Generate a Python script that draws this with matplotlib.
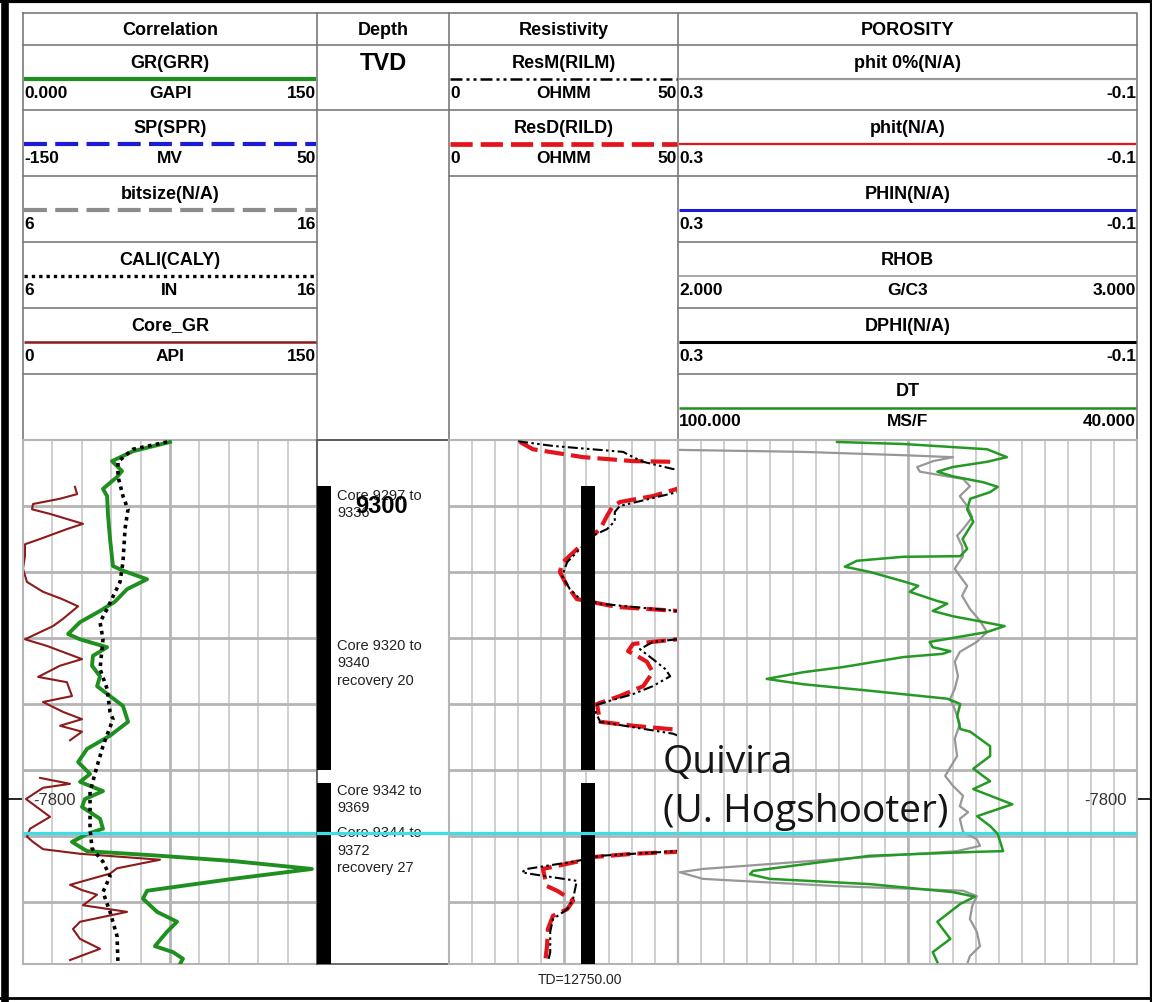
import numpy as np
import matplotlib.pyplot as plt
from matplotlib.patches import Rectangle

plt.rcParams['font.family'] = ['Liberation Sans', 'DejaVu Sans']
NARROW = ['Liberation Sans Narrow', 'Liberation Sans', 'DejaVu Sans']

FIG_W, FIG_H = 1152, 1003
TOP, BASE = 9290.0, 9369.4

# ---------------- log data (depth = TVD ft) ----------------
gr_depth = [9290.3, 9291.7, 9293.2, 9294.7, 9295.6, 9297.4, 9298.5, 9301.5, 9305.0, 9309.1,
            9309.8, 9311.1, 9312.6, 9314.5, 9315.9, 9317.6, 9319.4, 9320.2, 9321.4, 9322.7,
            9324.2, 9325.8, 9327.3, 9328.8, 9330.3, 9332.7, 9334.8, 9336.8, 9338.8, 9340.6,
            9341.8, 9343.2, 9344.4, 9345.6, 9347.4, 9348.9, 9349.7, 9350.9, 9352.3, 9353.0,
            9353.8, 9355.0, 9356.5, 9358.3, 9359.5, 9361.5, 9363.0, 9364.5, 9366.7, 9367.6,
            9368.6, 9369.4]
gr_api = [75.0, 56.1, 45.4, 50.5, 48.0, 40.8, 42.9, 43.4, 44.4, 45.9,
          51.0, 63.3, 53.1, 46.9, 39.3, 29.1, 23.0, 29.1, 42.9, 35.7,
          35.2, 39.3, 37.8, 44.4, 51.0, 53.6, 44.4, 32.7, 28.1, 34.2,
          29.1, 40.8, 31.6, 30.1, 39.3, 40.8, 32.7, 25.0, 32.7, 69.9,
          107.1, 147.4, 107.1, 63.3, 61.2, 68.4, 78.6, 73.5, 67.3, 76.5,
          81.6, 80.1]

cali_depth = [9290.3, 9291.4, 9293.3, 9295.5, 9298.5, 9300.5, 9303.5, 9308.5, 9311.5, 9315.6,
              9317.6, 9320.2, 9324.7, 9327.7, 9331.2, 9332.3, 9336.4, 9339.4, 9343.3, 9348.9,
              9351.9, 9353.9, 9356.1, 9358.5, 9361.5, 9365.2, 9369.4]
cali_in = [10.90, 9.74, 9.23, 9.23, 9.40, 9.57, 9.47, 9.40, 9.30, 8.86,
           8.62, 8.72, 8.62, 8.86, 8.96, 9.06, 8.72, 8.52, 8.28, 8.28,
           8.35, 8.72, 8.96, 8.72, 8.96, 9.20, 9.23]

core_gr_depth = [9297.1, 9298.2, 9298.9, 9299.7, 9300.5, 9301.2, 9302.7, 9303.5, 9305.0, 9305.8,
                 9307.6, 9309.5, 9311.5, 9313.0, 9314.1, 9315.2, 9317.1, 9318.2, 9320.2, 9321.2,
                 9323.2, 9324.2, 9325.9, 9326.7, 9328.8, 9329.7, 9331.2, 9332.3, 9333.3, 9334.2,
                 9335.5, 9338.0, 9341.2, 9342.1, 9342.7, 9344.4, 9347.1, 9348.9, 9350.1, 9350.9,
                 9352.0, 9352.7, 9353.6, 9354.9, 9355.7, 9357.4, 9358.2, 9358.9, 9360.5, 9361.5,
                 9363.0, 9364.1, 9365.6, 9367.1, 9368.8]
core_gr_api = [26.5, 27.6, 18.9, 5.1, 4.6, 13.8, 30.6, 22.4, 8.7, 1.0,
               1.0, 0.0, 2.0, 10.2, 19.9, 28.1, 20.4, 15.3, 1.0, 12.2,
               30.1, 18.9, 7.7, 22.4, 25.0, 10.2, 20.4, 30.1, 18.9, 30.1,
               24.0, np.nan, 8.7, 24.0, 10.2, 1.5, 13.8, 3.6, 2.0, 5.1,
               10.2, 29.1, 69.9, 48.0, 44.4, 24.0, 30.1, 37.8, 30.6, 53.1,
               29.1, 25.5, 29.1, 39.3, 24.0]

resd_depth = [9290.3, 9291.4, 9292.6, 9293.2, 9293.3, 9295.5, 9297.4, 9298.5, 9299.4, 9300.2,
              9301.5, 9303.5, 9306.1, 9308.5, 9310.0, 9312.1, 9314.1, 9314.5, 9315.3, 9315.9,
              9318.0, 9320.2, 9320.9, 9322.0, 9322.7, 9323.6, 9325.2, 9327.3, 9328.8, 9330.0,
              9332.7, 9333.3, 9333.9, 9343.0, 9352.4, 9352.7, 9353.2, 9353.8, 9355.0, 9356.5,
              9357.6, 9358.3, 9359.8, 9361.1, 9362.1, 9364.1, 9366.7, 9369.1]
resd_ohmm = [15.5, 18.3, 29.3, 40.2, 48.7, 80.0, 49.8, 44.5, 37.3, 35.6,
             34.5, 33.0, 28.6, 24.9, 24.2, 25.8, 27.9, 30.8, 36.7, 49.8,
             80.0, 49.8, 40.2, 39.1, 41.0, 43.2, 44.5, 42.4, 37.3, 32.3,
             33.0, 40.2, 49.8, 80.0, 49.8, 40.2, 31.4, 28.6, 20.5, 21.0,
             21.4, 23.6, 27.1, 25.8, 22.7, 21.6, 21.4, 21.0]

resm_depth = [9290.2, 9290.9, 9291.8, 9292.6, 9293.3, 9294.4, 9295.8, 9297.9, 9298.9, 9300.0,
              9300.9, 9302.3, 9303.5, 9304.5, 9306.5, 9308.5, 9310.6, 9312.6, 9314.1, 9314.8,
              9315.3, 9315.9, 9318.0, 9320.2, 9320.6, 9321.7, 9323.2, 9324.7, 9325.8, 9327.3,
              9328.5, 9329.5, 9330.3, 9332.7, 9334.5, 9343.0, 9352.3, 9353.0, 9353.8, 9355.0,
              9355.5, 9355.8, 9356.8, 9359.5, 9361.1, 9362.6, 9364.5, 9367.6, 9369.1]
resm_ohmm = [15.1, 22.7, 38.0, 40.2, 42.4, 48.9, 80.0, 49.8, 43.9, 37.3,
             36.2, 36.2, 34.5, 31.4, 28.6, 25.8, 24.7, 26.4, 28.6, 33.0,
             40.2, 49.8, 80.0, 49.8, 44.5, 41.7, 44.5, 47.2, 48.3, 44.5,
             40.2, 35.2, 31.4, 33.0, 48.9, 80.0, 49.8, 33.0, 27.9, 17.0,
             15.9, 18.3, 27.9, 27.1, 25.8, 22.7, 22.1, 22.1, 21.6]

rhob_depth = [9291.5, 9291.8, 9292.3, 9292.6, 9293.2, 9294.1, 9294.8, 9295.5, 9295.9, 9297.0,
              9298.5, 9300.0, 9301.7, 9303.5, 9304.5, 9306.1, 9307.6, 9309.5, 9310.6, 9312.1,
              9313.6, 9315.6, 9317.4, 9319.1, 9320.6, 9322.1, 9323.6, 9325.8, 9327.7, 9329.2,
              9330.8, 9333.0, 9335.3, 9337.9, 9340.9, 9342.4, 9343.9, 9345.5, 9346.4, 9347.4,
              9349.4, 9350.5, 9351.5, 9352.3, 9353.5, 9355.0, 9355.5, 9356.5, 9357.6, 9358.3,
              9359.1, 9360.6, 9362.6, 9364.5, 9366.7, 9368.2, 9369.4]
rhob_gcc = [2.004, 2.272, 2.490, 2.599, 2.556, 2.521, 2.527, 2.586, 2.621, 2.636,
            2.614, 2.630, 2.641, 2.621, 2.608, 2.619, 2.621, 2.603, 2.614, 2.630,
            2.619, 2.636, 2.658, 2.673, 2.651, 2.614, 2.603, 2.610, 2.603, 2.593,
            2.603, 2.614, 2.603, 2.608, 2.582, 2.599, 2.621, 2.614, 2.632, 2.614,
            2.621, 2.651, 2.658, 2.608, 2.346, 2.054, 2.004, 2.054, 2.346, 2.621,
            2.651, 2.641, 2.636, 2.651, 2.658, 2.636, 2.630]

dt_depth = [9290.3, 9290.6, 9291.4, 9292.6, 9293.3, 9294.1, 9294.8, 9295.5, 9296.4, 9297.1,
            9297.9, 9298.9, 9300.5, 9302.4, 9305.0, 9306.5, 9307.6, 9307.7, 9308.3, 9309.2,
            9310.0, 9311.4, 9312.1, 9313.0, 9314.4, 9314.8, 9315.9, 9316.7, 9317.4, 9318.2,
            9319.1, 9319.8, 9320.6, 9321.4, 9322.0, 9322.4, 9322.9, 9324.4, 9325.2, 9326.2,
            9327.0, 9328.0, 9329.2, 9330.0, 9331.8, 9333.8, 9334.2, 9336.4, 9337.9, 9339.8,
            9341.7, 9342.9, 9345.2, 9347.0, 9348.5, 9349.7, 9352.3, 9352.4, 9353.0, 9355.3,
            9355.8, 9356.5, 9357.3, 9358.5, 9359.2, 9360.3, 9363.0, 9365.6, 9367.6, 9369.1]
dt_usf = [79.2, 70.6, 59.6, 57.0, 59.6, 64.1, 66.1, 64.1, 60.1, 58.2,
          59.2, 61.8, 62.2, 61.4, 62.8, 62.2, 63.1, 70.6, 76.6, 78.2,
          74.9, 70.6, 68.6, 69.7, 66.1, 64.8, 66.7, 64.1, 60.9, 57.3,
          59.6, 63.1, 67.1, 66.7, 64.4, 65.4, 70.6, 78.4, 83.7, 88.4,
          83.7, 74.9, 64.8, 63.1, 63.5, 63.1, 61.8, 59.2, 59.2, 61.4,
          59.2, 61.4, 56.3, 60.9, 59.2, 58.2, 57.5, 60.9, 74.9, 90.2,
          90.6, 88.0, 74.9, 64.1, 61.2, 63.1, 66.1, 64.4, 66.7, 66.1]

# cored intervals and notes
core_top = [9297.0, 9342.0]
core_base = [9340.0, 9369.4]
core_notes = ['Core 9297 to\n9336', 'Core 9320 to\n9340\nrecovery 20',
              'Core 9342 to\n9369', 'Core 9344 to\n9372\nrecovery 27']
core_note_depth = [9297.2, 9320.0, 9341.9, 9348.4]

quivira_top = 9349.5
subsea_depth, subsea_label = 9344.4, '-7800'
depth_label = 9300

# header contents
col_edges = [23, 317, 449, 678, 1137]
col_titles = ['Correlation', 'Depth', 'Resistivity', 'POROSITY']
corr_names = ['GR(GRR)', 'SP(SPR)', 'bitsize(N/A)', 'CALI(CALY)', 'Core_GR']
corr_units = ['GAPI', 'MV', '', 'IN', 'API']
corr_left = ['0.000', '-150', '6', '6', '0']
corr_right = ['150', '50', '16', '16', '150']
res_names = ['ResM(RILM)', 'ResD(RILD)']
res_units = ['OHMM', 'OHMM']
res_left = ['0', '0']
res_right = ['50', '50']
por_names = ['phit 0%(N/A)', 'phit(N/A)', 'PHIN(N/A)', 'RHOB', 'DPHI(N/A)', 'DT']
por_units = ['', '', '', 'G/C3', '', 'MS/F']
por_left = ['0.3', '0.3', '0.3', '2.000', '0.3', '100.000']
por_right = ['-0.1', '-0.1', '-0.1', '3.000', '-0.1', '40.000']

# styles
GREEN = '#1f8f1f'
RED = '#e3141b'
BROWN = '#8e1b1b'
DASH_SP = (0, (5.5, 2.0))
DASH_RD = (0, (4.7, 1.7))
DOTS = (0, (1.0, 1.2))
DDOT = (0, (4.8, 1.6, 1.2, 1.6, 1.2, 1.6))
corr_styles = [(GREEN, '-', 3.0), ('#1b1bd8', DASH_SP, 3.0), ('#8c8c8c', DASH_SP, 3.0),
               ('black', DOTS, 2.4), (BROWN, '-', 1.8)]
res_styles = [('black', DDOT, 1.8), (RED, DASH_RD, 3.4)]
por_styles = [('#9a9a9a', '-', 1.6), (RED, '-', 1.6), ('#1b1bd8', '-', 2.2),
              ('#9a9a9a', '-', 1.2), ('black', '-', 2.2), (GREEN, '-', 1.8)]
HDR_FS = 13

fig = plt.figure(figsize=(FIG_W / 100, FIG_H / 100), dpi=100)


def px_axes(x0, y0, x1, y1):
    return fig.add_axes([x0 / FIG_W, 1 - y1 / FIG_H, (x1 - x0) / FIG_W, (y1 - y0) / FIG_H])


# ---------------- header ----------------
bg = px_axes(0, 0, FIG_W, FIG_H)
bg.set_xlim(0, FIG_W)
bg.set_ylim(FIG_H, 0)
bg.axis('off')

HC = '#7a7a7a'
HLW = 1.2
row_y = [46, 111, 177, 243, 309, 375, 441]
bg.plot([23, 1137, 1137, 23, 23], [14, 14, 441, 441, 14], color=HC, lw=HLW)
for x in col_edges[1:-1]:
    bg.plot([x, x], [14, 441], color=HC, lw=HLW)
bg.plot([23, 1137], [46, 46], color=HC, lw=HLW)
for i, t in enumerate(col_titles):
    bg.text((col_edges[i] + col_edges[i + 1]) / 2, 30, t, ha='center', va='center',
            fontsize=HDR_FS, fontweight='bold', family=NARROW)

bg.text(383, 63, 'TVD', ha='center', va='center', fontsize=17, fontweight='bold')
bg.plot([317, 449], [111, 111], color=HC, lw=HLW)


def header_rows(c, names, units, lefts, rights, styles):
    x0, x1 = col_edges[c], col_edges[c + 1]
    xc = (x0 + x1) / 2
    for r, name in enumerate(names):
        top = row_y[r]
        color, ls, lw = styles[r]
        bg.text(xc, top + 17, name, ha='center', va='center', fontsize=HDR_FS,
                fontweight='bold', family=NARROW)
        bg.plot([x0 + 1, x1 - 1], [top + 34, top + 34], color=color, ls=ls, lw=lw,
                dash_capstyle='butt', solid_capstyle='butt')
        bg.text(x0 + 1, top + 47, lefts[r], ha='left', va='center', fontsize=HDR_FS - 0.5,
                fontweight='bold', family=NARROW)
        bg.text(xc, top + 47, units[r], ha='center', va='center', fontsize=HDR_FS - 0.5,
                fontweight='bold', family=NARROW)
        bg.text(x1 - 1, top + 47, rights[r], ha='right', va='center', fontsize=HDR_FS - 0.5,
                fontweight='bold', family=NARROW)
        bg.plot([x0, x1], [row_y[r + 1], row_y[r + 1]], color=HC, lw=HLW)


header_rows(0, corr_names, corr_units, corr_left, corr_right, corr_styles)
header_rows(2, res_names, res_units, res_left, res_right, res_styles)
header_rows(3, por_names, por_units, por_left, por_right, por_styles)

# outer frame
bg.plot([5.0, 5.0], [0, FIG_H], color='black', lw=5.5)
bg.plot([0, FIG_W], [2, 2], color='black', lw=3.0)
bg.plot([1150.5, 1150.5], [0, FIG_H], color='black', lw=1.6)
bg.plot([0, FIG_W], [999, 999], color='black', lw=2.0)


# ---------------- tracks ----------------
def track(x0, x1, xlim, ndiv):
    ax = px_axes(x0, 441, x1, 965)
    ax.set_xlim(*xlim)
    ax.set_ylim(BASE, TOP)
    ax.set_xticks([])
    ax.set_yticks([])
    ax.set_facecolor('none')
    for s in ax.spines.values():
        s.set_color('#b4b4b4')
        s.set_linewidth(1.5)
    if ndiv:
        for i in range(1, ndiv):
            lw, c = (2.0, '#b4b4b4') if i == ndiv // 2 else (1.3, '#cccccc')
            ax.axvline(xlim[0] + (xlim[1] - xlim[0]) * i / ndiv, color=c, lw=lw, zorder=0)
        for d in range(9300, 9370, 10):
            ax.axhline(d, color='#b4b4b4', lw=2.0, zorder=0)
    return ax


ax_corr = track(23, 317, (0, 150), 10)
ax_cal = ax_corr.twiny()
ax_cal.set_xlim(6, 16)
ax_cal.set_ylim(BASE, TOP)
ax_cal.axis('off')
ax_corr.plot(core_gr_api, core_gr_depth, color=BROWN, lw=1.5, zorder=2)
ax_cal.plot(cali_in, cali_depth, color='black', lw=2.6, ls=DOTS, dash_capstyle='butt', zorder=3)
ax_corr.plot(gr_api, gr_depth, color=GREEN, lw=2.8, zorder=4, solid_joinstyle='round')

ax_depth = track(317, 449, (0, 1), 0)
for s in ax_depth.spines.values():
    s.set_color('#555555')
    s.set_linewidth(1.2)

ax_res = track(449, 678, (0, 50), 10)
ax_res.plot(resd_ohmm, resd_depth, color=RED, lw=3.0, ls=DASH_RD, dash_capstyle='butt', zorder=2)
ax_res.plot(resm_ohmm, resm_depth, color='black', lw=1.5, ls=DDOT, dash_capstyle='butt', zorder=3)

ax_por = track(678, 1137, (2, 3), 20)
ax_dt = ax_por.twiny()
ax_dt.set_xlim(100, 40)
ax_dt.set_ylim(BASE, TOP)
ax_dt.axis('off')
ax_por.plot(rhob_gcc, rhob_depth, color='#979797', lw=1.6, zorder=2)
ax_dt.plot(dt_usf, dt_depth, color='#249a24', lw=1.8, zorder=3)

# cored intervals
for top, base in zip(core_top, core_base):
    ax_depth.add_patch(Rectangle((0, top), 0.106, base - top, transform=ax_depth.get_yaxis_transform(),
                                 color='black', lw=0, zorder=5))
    ax_res.add_patch(Rectangle((0.576, top), 0.062, base - top, transform=ax_res.get_yaxis_transform(),
                               color='black', lw=0, zorder=5))
for note, d in zip(core_notes, core_note_depth):
    ax_depth.text(0.152, d, note, transform=ax_depth.get_yaxis_transform(), ha='left', va='top',
                  fontsize=10.5, linespacing=1.3, color='#222222', zorder=6)
ax_depth.text(0.49, depth_label, str(depth_label), transform=ax_depth.get_yaxis_transform(),
              ha='center', va='center', fontsize=17, fontweight='bold', zorder=7)

# formation top
for ax in (ax_corr, ax_depth, ax_res, ax_por):
    ax.axhline(quivira_top, color='#41dde4', lw=2.3, zorder=10)
ax_por.text(-0.033, 9340.3, 'Quivira', transform=ax_por.get_yaxis_transform(), ha='left',
            va='baseline', fontsize=28, family=['Open Sans', 'DejaVu Sans'], color='#151515',
            clip_on=False, zorder=11)
ax_por.text(-0.033, 9347.7, '(U. Hogshooter)', transform=ax_por.get_yaxis_transform(), ha='left',
            va='baseline', fontsize=28, family=['Open Sans', 'DejaVu Sans'], color='#151515',
            clip_on=False, zorder=11)

# subsea depth marks
ax_corr.plot([-0.05, 0], [subsea_depth, subsea_depth], transform=ax_corr.get_yaxis_transform(),
             color='black', lw=1.2, clip_on=False)
ax_corr.text(0.034, subsea_depth, subsea_label, transform=ax_corr.get_yaxis_transform(),
             ha='left', va='center', fontsize=12, color='#333333', zorder=6)
ax_por.plot([1, 1.03], [subsea_depth, subsea_depth], transform=ax_por.get_yaxis_transform(),
            color='black', lw=1.2, clip_on=False)
ax_por.text(0.978, subsea_depth, subsea_label, transform=ax_por.get_yaxis_transform(),
            ha='right', va='center', fontsize=12, color='#333333', zorder=6)

ax_res.text(0.572, -0.029, 'TD=12750.00', transform=ax_res.transAxes, ha='center', va='center',
            fontsize=10, color='#222222')

fig.savefig('out.png', dpi=100, facecolor='white')
